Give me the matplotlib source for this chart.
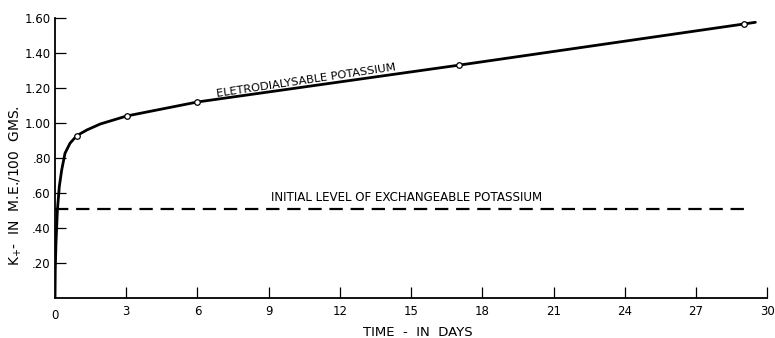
import matplotlib
matplotlib.use("Agg")
import matplotlib.pyplot as plt

# Curve (days, K+ in m.e./100 g)
curve_days = [0.0, 0.01, 0.04, 0.10, 0.18, 0.28, 0.42, 0.63, 0.91, 1.34, 1.90, 2.46,
              3.02, 6.0, 17.0, 29.0, 29.5]
curve_k = [0.0, 0.16, 0.313, 0.503, 0.636, 0.731, 0.827, 0.884, 0.927, 0.96, 0.994,
           1.017, 1.04, 1.12, 1.33, 1.565, 1.575]

# Measured points (open circles)
point_days = [0.91, 3.02, 6.0, 17.0, 29.0]
point_k = [0.927, 1.04, 1.12, 1.33, 1.565]

initial_level = 0.51
initial_span = [0.0, 29.3]

x_ticks = [3, 6, 9, 12, 15, 18, 21, 24, 27, 30]
x_labels = ["3", "6", "9", "12", "15", "18", "21", "24", "27", "30"]
y_ticks = [0.2, 0.4, 0.6, 0.8, 1.0, 1.2, 1.4, 1.6]
y_labels = [".20", ".40", ".60", ".80", "1.00", "1.20", "1.40", "1.60"]

fig = plt.figure(figsize=(7.75, 3.38), dpi=100)
ax = fig.add_axes([0.071, 0.118, 0.919, 0.829])

ax.plot(curve_days, curve_k, color="black", lw=2.0, solid_capstyle="round",
        solid_joinstyle="round")
ax.plot(point_days, point_k, "o", ms=4, mfc="white", mec="black", mew=0.9)
ax.plot(initial_span, [initial_level, initial_level], color="black", lw=1.6,
        dashes=(6, 3.5))

ax.set_xlim(0, 30)
ax.set_ylim(0, 1.6)
for s in ["top", "right"]:
    ax.spines[s].set_visible(False)
for s in ["left", "bottom"]:
    ax.spines[s].set_linewidth(1.3)

ax.set_xticks(x_ticks)
ax.set_xticklabels(x_labels)
ax.set_yticks(y_ticks)
ax.set_yticklabels(y_labels)
ax.tick_params(axis="both", direction="in", length=8, width=0.9, labelsize=8.5, pad=5)
ax.tick_params(axis="y", pad=3)
ax.text(0, -0.04, "0", transform=ax.get_xaxis_transform(), ha="center", va="top",
        fontsize=8.5)

ax.set_xlabel("TIME  -  IN  DAYS", fontsize=9.5)
ax.xaxis.set_label_coords(0.51, -0.098)
ax.set_ylabel("K$_{+}$-  IN  M.E./100  GMS.", fontsize=10)
ax.yaxis.set_label_coords(-0.044, 0.40)

ax.text(10.6, 1.215, "ELETRODIALYSABLE POTASSIUM", fontsize=8.2, rotation=8.5,
        ha="center", va="bottom", rotation_mode="anchor")
ax.text(14.8, 0.54, "INITIAL LEVEL OF EXCHANGEABLE POTASSIUM", fontsize=8.6,
        ha="center", va="bottom")

fig.savefig("out.png", dpi=100)
